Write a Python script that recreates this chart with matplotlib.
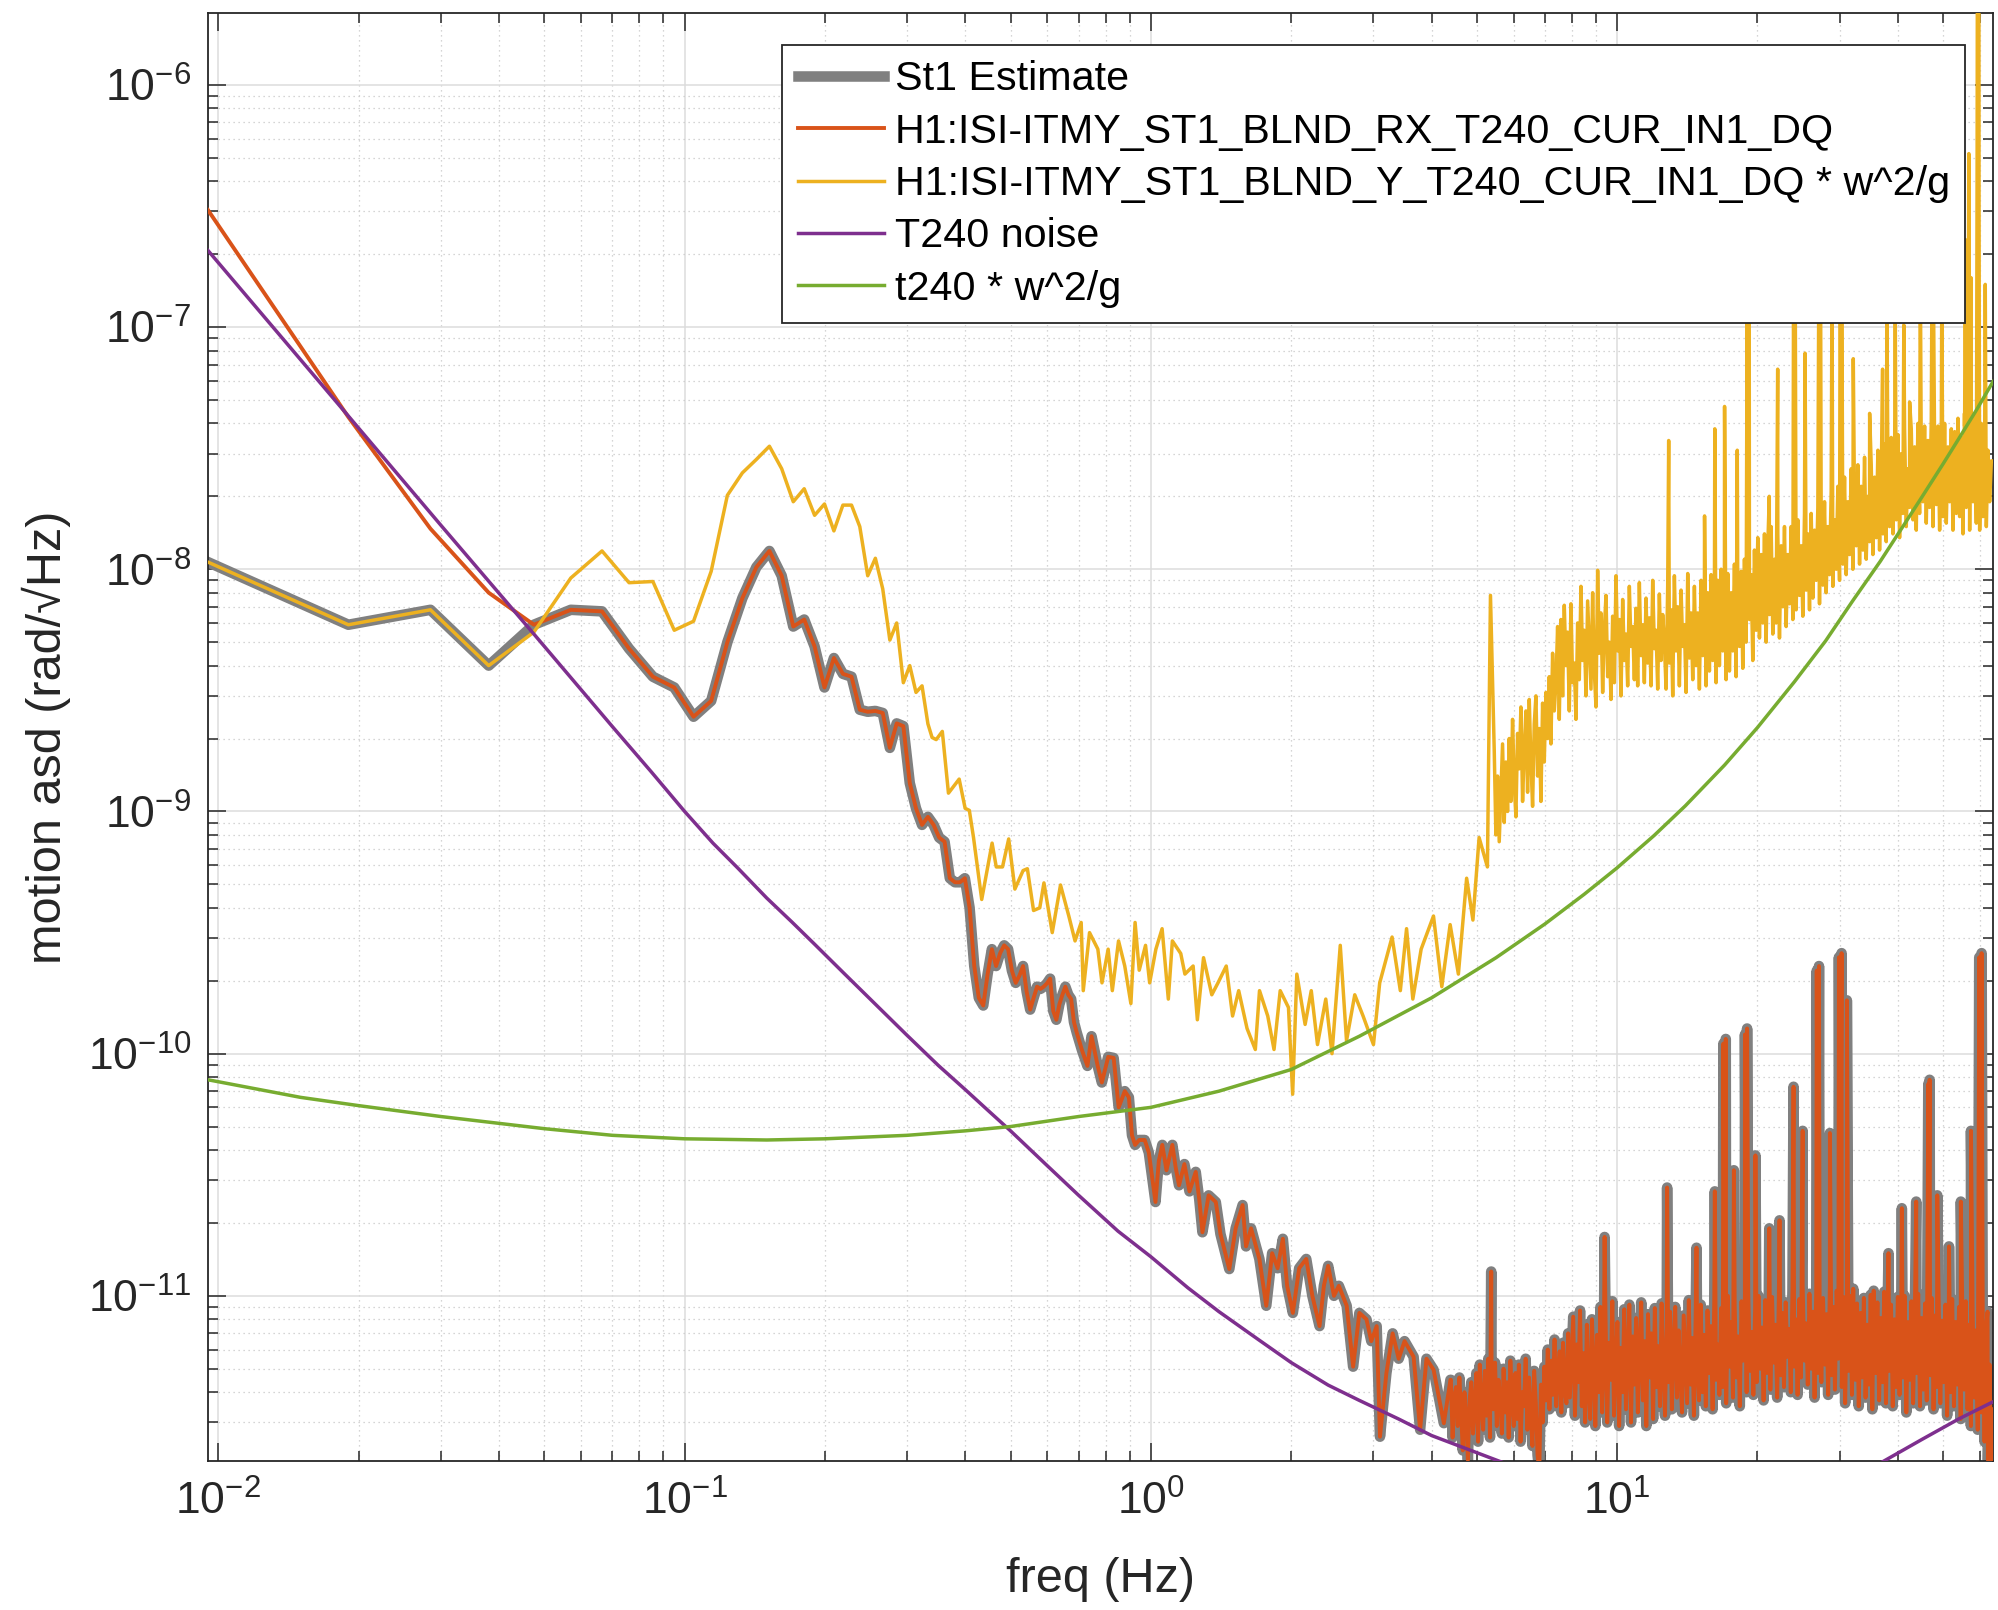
import numpy as np
import matplotlib
matplotlib.use("Agg")
import matplotlib.pyplot as plt
from matplotlib.ticker import LogLocator, NullFormatter

plt.rcParams['font.family'] = ['Liberation Sans', 'DejaVu Sans']
plt.rcParams['mathtext.fontset'] = 'custom'
plt.rcParams['mathtext.rm'] = 'Liberation Sans'
plt.rcParams['mathtext.it'] = 'Liberation Sans:italic'
plt.rcParams['mathtext.bf'] = 'Liberation Sans:bold'

# ---------------- data ----------------
labels = ["St1 Estimate",
          "H1:ISI-ITMY_ST1_BLND_RX_T240_CUR_IN1_DQ",
          "H1:ISI-ITMY_ST1_BLND_Y_T240_CUR_IN1_DQ * w^2/g",
          "T240 noise",
          "t240 * w^2/g"]

# lowest frequency bins (Hz)
f_low = [0.0095, 0.019, 0.0285, 0.038, 0.0475, 0.057, 0.0665, 0.076, 0.0855, 0.095,
         0.1045, 0.114, 0.1235, 0.133, 0.1425, 0.152, 0.1615, 0.171, 0.1805, 0.19,
         0.1995, 0.209, 0.2185, 0.228, 0.2375, 0.247, 0.2565, 0.266, 0.2755, 0.285]

rx_low = [3.04e-7, 4.25e-8, 1.47e-8, 8.0e-9, 5.9e-9, 6.8e-9, 6.7e-9, 4.7e-9, 3.6e-9, 3.25e-9,
          2.46e-9, 2.86e-9, 5.0e-9, 7.6e-9, 1.02e-8, 1.19e-8, 9.4e-9, 5.8e-9, 6.2e-9, 4.8e-9,
          3.25e-9, 4.3e-9, 3.7e-9, 3.6e-9, 2.63e-9, 2.58e-9, 2.6e-9, 2.55e-9, 1.83e-9, 2.31e-9]

y_low = [1.07e-8, 5.9e-9, 6.8e-9, 4.0e-9, 5.5e-9, 9.2e-9, 1.19e-8, 8.8e-9, 8.9e-9, 5.6e-9,
         6.1e-9, 9.8e-9, 2.02e-8, 2.5e-8, 2.84e-8, 3.22e-8, 2.6e-8, 1.9e-8, 2.15e-8, 1.67e-8,
         1.86e-8, 1.44e-8, 1.84e-8, 1.84e-8, 1.5e-8, 9.4e-9, 1.11e-8, 8.3e-9, 5.1e-9, 6.0e-9]

# RX channel, 0.29 - 4.4 Hz
rx_mid_f = [0.2945, 0.304, 0.3135, 0.323, 0.3325, 0.342, 0.3515, 0.361, 0.3705, 0.38,
            0.3895, 0.399, 0.4085, 0.418, 0.4275, 0.437, 0.4465, 0.456, 0.4655, 0.475,
            0.4845, 0.494, 0.5035, 0.513, 0.5225, 0.532, 0.5415, 0.551, 0.5605, 0.57,
            0.5795, 0.589, 0.5985, 0.608, 0.6175, 0.627, 0.6365, 0.646, 0.6555, 0.665,
            0.6745, 0.684, 0.6935, 0.712, 0.731, 0.746, 0.769, 0.785, 0.810, 0.832,
            0.853, 0.879, 0.897, 0.911, 0.925, 0.944, 0.97, 0.99, 1.023, 1.04,
            1.058, 1.08, 1.112, 1.13, 1.149, 1.18, 1.21, 1.248, 1.27, 1.29,
            1.33, 1.378, 1.41, 1.473, 1.52, 1.573, 1.6, 1.64, 1.709, 1.768,
            1.82, 1.87, 1.919, 1.96, 2.016, 2.08, 2.154, 2.22, 2.30, 2.35,
            2.40, 2.47, 2.53, 2.63, 2.715, 2.8, 2.90, 2.97, 3.05, 3.10,
            3.2, 3.3, 3.4, 3.5, 3.66, 3.78, 3.9, 4.04, 4.25, 4.39]
rx_mid_v = [2.25e-9, 1.31e-9, 1.03e-9, 8.8e-10, 9.5e-10, 8.8e-10, 7.8e-10, 7.5e-10, 5.3e-10, 5.1e-10,
            5.1e-10, 5.3e-10, 4.0e-10, 2.3e-10, 1.7e-10, 1.58e-10, 2.13e-10, 2.7e-10, 2.3e-10, 2.6e-10,
            2.8e-10, 2.7e-10, 2.2e-10, 1.96e-10, 2.1e-10, 2.3e-10, 1.8e-10, 1.52e-10, 1.7e-10, 1.89e-10,
            1.85e-10, 1.89e-10, 1.95e-10, 2.04e-10, 1.5e-10, 1.38e-10, 1.6e-10, 1.75e-10, 1.89e-10, 1.75e-10,
            1.68e-10, 1.35e-10, 1.22e-10, 1.03e-10, 8.9e-11, 1.18e-10, 8.9e-11, 7.6e-11, 9.7e-11, 9.6e-11,
            6.0e-11, 7.0e-11, 6.6e-11, 4.6e-11, 4.2e-11, 4.4e-11, 4.4e-11, 3.9e-11, 2.44e-11, 3.6e-11,
            4.2e-11, 3.3e-11, 4.2e-11, 3.4e-11, 2.86e-11, 3.5e-11, 2.7e-11, 3.25e-11, 2.5e-11, 1.83e-11,
            2.6e-11, 2.44e-11, 1.8e-11, 1.29e-11, 1.9e-11, 2.37e-11, 1.6e-11, 1.9e-11, 1.42e-11, 9.1e-12,
            1.5e-11, 1.3e-11, 1.72e-11, 1.1e-11, 8.5e-12, 1.3e-11, 1.42e-11, 1.0e-11, 7.5e-12, 1.1e-11,
            1.33e-11, 1.0e-11, 1.1e-11, 9.1e-12, 5.1e-12, 8.5e-12, 8.0e-12, 6.5e-12, 7.5e-12, 2.62e-12,
            4.8e-12, 7.0e-12, 5.5e-12, 6.5e-12, 5.6e-12, 2.8e-12, 5.5e-12, 4.95e-12, 2.98e-12, 4.5e-12]

# RX channel noise floor 4.4 - 64 Hz (units of 1e-12), evenly spaced in log f
rx_hf_pico = [
    4.5, 2.6, 3.8, 4.2, 2.9, 4.6, 3.3, 2.3, 4.0, 3.1,
    2.1, 3.7, 4.4, 2.7, 3.5, 4.8, 2.5, 5.2, 3.6, 2.8,
    4.9, 3.2, 5.5, 2.6, 4.1, 3.4, 5.3, 2.9, 4.5, 3.8,
    2.7, 5.0, 3.3, 4.4, 2.6, 5.4, 3.7, 2.9, 4.8, 3.1,
    5.2, 2.5, 4.0, 3.5, 5.5, 2.8, 4.6, 3.2, 2.4, 4.9,
    3.6, 2.2, 1.9, 4.3, 3.0, 5.1, 3.7, 6.0, 3.4, 5.4,
    3.9, 6.6, 3.5, 4.8, 5.9, 3.3, 6.4, 4.1, 3.6, 7.0,
    3.8, 5.6, 8.2, 3.2, 6.3, 4.4, 8.7, 3.5, 5.8, 3.0,
    7.6, 4.2, 3.1, 8.0, 5.0, 2.9, 6.9, 4.0, 9.0, 3.3,
    5.8, 8.3, 3.0, 6.4, 4.5, 9.5, 3.2, 5.2, 7.8, 2.9,
    6.1, 4.0, 8.8, 3.4, 5.5, 9.2, 3.0, 6.8, 4.3, 8.1,
    3.3, 5.9, 9.4, 3.7, 6.5, 2.9, 8.4, 4.6, 7.0, 3.1,
    8.9, 4.2, 6.2, 3.5, 9.3, 5.0, 3.2, 7.4, 4.4, 8.6,
    3.4, 6.0, 9.0, 3.8, 7.2, 4.7, 3.3, 8.3, 5.4, 3.6,
    9.6, 4.3, 6.7, 3.2, 8.0, 5.2, 3.7, 9.2, 4.0, 6.9,
    3.5, 8.7, 4.8, 7.5, 3.4, 9.8, 4.5, 6.3, 3.9, 8.9,
    4.2, 7.2, 3.6, 10.0, 5.1, 7.8, 3.8, 9.1, 4.6, 6.8,
    3.5, 9.5, 5.4, 8.0, 4.0, 10.4, 4.9, 7.1, 3.9, 8.8,
    4.4, 10.0, 5.0, 7.4, 3.7, 9.6, 4.8, 8.2, 4.1, 9.9,
    5.3, 7.6, 3.8, 10.3, 4.7, 8.5, 4.2, 9.4, 5.6, 7.3,
    4.0, 10.6, 5.1, 8.0, 3.9, 9.7, 4.6, 11.0, 5.4, 7.7,
    4.3, 10.2, 5.0, 8.6, 3.8, 10.8, 4.8, 7.9, 4.4, 9.8,
    5.2, 8.4, 3.9, 11.2, 4.7, 9.0, 4.1, 10.5, 5.5, 8.2,
    4.2, 9.9, 3.6, 8.7, 4.9, 10.0, 3.9, 7.8, 4.5, 9.3,
    3.5, 8.5, 4.6, 9.8, 3.8, 7.6, 4.3, 10.1, 3.4, 8.9,
    4.8, 9.4, 3.7, 8.1, 4.4, 10.4, 3.6, 8.6, 4.9, 9.2,
    3.5, 8.0, 4.2, 9.9, 3.9, 8.7, 4.6, 10.0, 3.3, 7.8,
    4.5, 9.5, 3.6, 8.4, 4.8, 10.2, 3.5, 8.1, 4.1, 9.3,
    3.7, 8.6, 4.7, 9.8, 3.4, 8.3, 4.2, 10.1, 3.6, 7.9,
    4.4, 9.2, 3.2, 8.5, 4.0, 9.7, 3.5, 7.8, 4.3, 9.0,
    3.1, 8.2, 4.1, 9.5, 3.4, 7.6, 2.9, 8.8, 3.8, 7.2,
    2.8, 8.4, 3.3, 6.8, 2.5, 7.5, 2.1, 5.2, 1.8, 3.4]

# RX channel lines (peaks)
rx_peak_f = [5.37, 9.4, 12.8, 14.8, 16.2, 16.9, 17.1, 17.8, 18.8, 19.0, 19.8, 21.2, 22.3,
             23.9, 25.0, 26.8, 27.1, 28.6, 29.9, 30.3, 31.1, 32.1, 35.5, 38.2, 40.8,
             43.8, 46.5, 46.8, 48.6, 51.5, 54.6, 57.4, 59.8, 60.5, 62.3]
rx_peak_v = [1.26e-11, 1.75e-11, 2.8e-11, 1.58e-11, 2.7e-11, 1.1e-10, 1.15e-10, 3.3e-11, 1.2e-10,
             1.27e-10, 3.8e-11, 1.9e-11, 2.05e-11, 7.3e-11, 4.8e-11, 2.2e-10, 2.3e-10, 4.7e-11,
             2.5e-10, 2.6e-10, 1.66e-10, 1.07e-11, 1.05e-11, 1.5e-11, 2.3e-11, 2.45e-11, 7.5e-11,
             7.8e-11, 2.6e-11, 1.6e-11, 2.45e-11, 4.8e-11, 2.5e-10, 2.6e-10, 8.6e-12]

# Y channel * w^2/g, 0.29 - 5.35 Hz
y_mid_f = [0.2945, 0.304, 0.3135, 0.323, 0.3325, 0.3394, 0.3464, 0.357, 0.368, 0.388,
           0.3996, 0.408, 0.4165, 0.4337, 0.4565, 0.466, 0.4806, 0.4955, 0.5109, 0.532,
           0.5434, 0.5602, 0.5777, 0.5897, 0.6144, 0.640, 0.6668, 0.6876, 0.7088, 0.7161,
           0.7386, 0.7696, 0.7855, 0.8098, 0.8266, 0.8524, 0.879, 0.906, 0.925, 0.944,
           0.974, 0.994, 1.025, 1.057, 1.09, 1.112, 1.159, 1.183, 1.232, 1.258,
           1.297, 1.351, 1.393, 1.451, 1.497, 1.543, 1.608, 1.675, 1.71, 1.781,
           1.837, 1.894, 1.973, 2.014, 2.056, 2.142, 2.208, 2.277, 2.372, 2.446,
           2.548, 2.628, 2.737, 2.852, 3.002, 3.096, 3.291, 3.428, 3.535, 3.646,
           3.799, 4.038, 4.207, 4.384, 4.566, 4.756, 4.906, 5.058, 5.27, 5.35]
y_mid_v = [3.4e-9, 4.0e-9, 3.1e-9, 3.3e-9, 2.3e-9, 2.02e-9, 1.98e-9, 2.14e-9, 1.19e-9, 1.36e-9,
           1.03e-9, 1.01e-9, 7.8e-10, 4.33e-10, 7.4e-10, 5.9e-10, 5.9e-10, 7.7e-10, 4.78e-10, 5.7e-10,
           5.8e-10, 3.9e-10, 4.0e-10, 5.07e-10, 3.16e-10, 4.97e-10, 3.7e-10, 2.92e-10, 3.48e-10, 1.82e-10,
           3.16e-10, 2.7e-10, 1.96e-10, 2.7e-10, 1.82e-10, 2.92e-10, 2.3e-10, 1.61e-10, 3.48e-10, 2.21e-10,
           2.8e-10, 1.96e-10, 2.7e-10, 3.28e-10, 1.68e-10, 2.92e-10, 2.59e-10, 2.13e-10, 2.3e-10, 1.38e-10,
           2.49e-10, 1.75e-10, 1.96e-10, 2.3e-10, 1.43e-10, 1.82e-10, 1.27e-10, 1.04e-10, 1.82e-10, 1.43e-10,
           1.04e-10, 1.82e-10, 1.55e-10, 6.8e-11, 2.13e-10, 1.32e-10, 1.82e-10, 1.09e-10, 1.68e-10, 1.0e-10,
           2.8e-10, 1.13e-10, 1.75e-10, 1.43e-10, 1.09e-10, 1.96e-10, 3.03e-10, 1.82e-10, 3.28e-10, 1.68e-10,
           2.7e-10, 3.7e-10, 1.89e-10, 3.41e-10, 2.13e-10, 5.3e-10, 3.56e-10, 7.8e-10, 5.9e-10, 7.8e-9]

# Y channel noise floor 5.45 - 64 Hz (units of 1e-9), evenly spaced in log f
y_hf_nano = [
    1.8, 0.8, 1.4, 0.75, 1.2, 1.9, 0.9, 1.6, 1.0, 2.0,
    1.1, 2.4, 1.3, 0.95, 2.1, 1.5, 2.7, 1.1, 1.8, 2.6,
    1.2, 2.9, 1.6, 1.05, 2.3, 3.0, 1.4, 2.2, 1.1, 2.8,
    1.6, 3.1, 2.0, 3.6, 1.9, 4.5, 2.6, 3.4, 5.8, 2.4,
    6.2, 3.0, 7.1, 4.0, 5.5, 2.6, 7.2, 3.4, 4.1, 2.4,
    6.0, 3.5, 8.5, 4.2, 5.6, 3.0, 7.4, 4.8, 3.2, 8.0,
    3.8, 2.7, 9.9, 4.5, 6.6, 3.1, 5.6, 7.8, 3.6, 5.0,
    2.9, 6.4, 3.4, 9.4, 4.6, 6.2, 3.0, 7.5, 4.2, 5.4,
    3.3, 8.5, 4.8, 5.8, 3.5, 6.9, 3.3, 8.8, 4.4, 5.9,
    3.4, 7.6, 4.1, 6.3, 3.3, 9.0, 4.7, 5.6, 3.2, 7.9,
    4.2, 6.5, 5.0, 3.2, 8.6, 4.1, 6.8, 3.0, 9.4, 4.6,
    7.0, 3.3, 8.2, 4.8, 5.9, 3.1, 9.6, 4.3, 6.6, 3.5,
    8.5, 4.0, 6.6, 3.2, 9.0, 4.4, 7.0, 3.3, 8.0, 3.8,
    9.5, 4.2, 7.5, 3.4, 9.0, 4.0, 10.0, 4.6, 7.8, 3.5,
    9.6, 3.8, 8.0, 4.6, 10.5, 3.6, 7.6, 4.8, 9.8, 3.9,
    11.0, 5.0, 13.0, 6.2, 9.5, 4.2, 12.0, 5.6, 13.5, 5.2,
    11.5, 6.0, 14.0, 5.0, 12.5, 6.5, 15.0, 5.4, 11.0, 6.0,
    14.0, 5.2, 12.5, 7.0, 15.0, 5.8, 11.5, 7.2, 15.0, 6.2,
    13.5, 6.8, 16.0, 7.8, 12.5, 6.4, 17.0, 8.2, 14.0, 6.8,
    17.0, 7.6, 14.5, 9.0, 18.0, 7.2, 15.5, 8.6, 19.0, 8.0,
    15.0, 9.5, 21.0, 8.5, 16.0, 10.0, 22.0, 9.0, 17.5, 10.5,
    24.0, 9.5, 19.0, 11.5, 26.0, 10.0, 18.0, 12.5, 27.0, 10.5,
    22.0, 12.0, 29.0, 11.0, 20.0, 13.0, 27.0, 11.5, 24.0, 13.5,
    31.0, 12.0, 23.0, 14.0, 33.0, 13.0, 25.0, 15.0, 35.0, 14.0,
    28.0, 16.0, 36.0, 13.5, 30.0, 17.0, 38.0, 15.0, 26.0, 18.0,
    38.0, 16.0, 32.0, 14.5, 40.0, 17.0, 29.0, 19.0, 39.0, 15.5,
    34.0, 18.0, 41.0, 15.0, 31.0, 18.5, 39.0, 14.5, 35.0, 16.5,
    40.0, 15.5, 32.0, 19.0, 38.0, 14.5, 37.0, 17.0, 42.0, 16.5,
    35.0, 14.0, 39.0, 18.0, 42.0, 14.5, 37.0, 19.0, 44.0, 15.5,
    37.0, 14.5, 40.0, 16.5, 34.0, 15.0, 31.0, 19.0, 28.0, 28.0]

# Y channel lines (peaks)
y_peak_f = [12.9, 15.4, 16.2, 17.0, 18.1, 19.0, 19.2, 21.2, 22.1, 23.9, 24.1, 25.3, 27.1, 27.3,
            28.9, 30.1, 30.3, 32.1, 34.8, 37.1, 37.9, 39.5, 41.2, 42.4, 44.7, 47.4, 47.6, 49.7,
            55.6, 55.8, 56.8, 57.4, 59.3, 59.6, 61.6]
y_peak_v = [3.4e-8, 1.66e-8, 3.8e-8, 4.7e-8, 3.1e-8, 1.2e-7, 1.3e-7, 2.0e-8, 6.7e-8, 1.5e-7, 1.6e-7,
            7.8e-8, 2.4e-7, 2.5e-7, 1.5e-7, 2.9e-7, 3.0e-7, 7.4e-8, 4.4e-8, 6.7e-8, 1.3e-7, 1.07e-7,
            1.02e-7, 4.9e-8, 1.8e-7, 2.4e-7, 2.5e-7, 1.4e-7, 4.4e-8, 2.3e-7, 5.2e-7, 1.6e-7, 3.0e-6,
            3.5e-6, 1.5e-7]

# T240 noise
t240_f = [0.0095, 0.02, 0.03, 0.0475, 0.07, 0.085, 0.1, 0.115, 0.13, 0.15, 0.17, 0.19, 0.22,
          0.26, 0.3, 0.35, 0.4, 0.45, 0.5, 0.6, 0.7, 0.85, 1.0, 1.2, 1.4, 1.7, 2.0, 2.4,
          2.8, 3.4, 4.0, 5.5, 8.0, 10.0, 14.0, 20.0, 28.0, 36.7, 45.0, 54.0, 64.0]
t240_v = [2.07e-7, 3.82e-8, 1.52e-8, 5.4e-9, 2.24e-9, 1.45e-9, 1.0e-9, 7.4e-10, 5.84e-10, 4.39e-10,
          3.49e-10, 2.83e-10, 2.14e-10, 1.56e-10, 1.19e-10, 8.94e-11, 7.1e-11, 5.77e-11, 4.8e-11,
          3.44e-11, 2.6e-11, 1.85e-11, 1.45e-11, 1.08e-11, 8.6e-12, 6.6e-12, 5.3e-12, 4.28e-12,
          3.7e-12, 3.1e-12, 2.65e-12, 2.1e-12, 1.6e-12, 1.45e-12, 1.35e-12, 1.45e-12, 1.7e-12,
          2.04e-12, 2.55e-12, 3.1e-12, 3.65e-12]

# t240 * w^2/g
t240w_f = [0.0095, 0.015, 0.02, 0.03, 0.05, 0.07, 0.1, 0.15, 0.2, 0.3, 0.4, 0.5, 0.7, 1.0,
           1.4, 2.0, 2.8, 4.0, 5.5, 7.0, 8.5, 10.0, 12.0, 14.0, 17.0, 20.0, 24.0, 28.0, 32.0,
           36.7, 41.0, 45.0, 50.0, 54.0, 59.0, 64.0]
t240w_v = [7.8e-11, 6.6e-11, 6.1e-11, 5.5e-11, 4.9e-11, 4.6e-11, 4.45e-11, 4.4e-11, 4.45e-11,
           4.6e-11, 4.8e-11, 5.0e-11, 5.5e-11, 6.0e-11, 7.0e-11, 8.6e-11, 1.18e-10, 1.7e-10,
           2.49e-10, 3.43e-10, 4.55e-10, 5.85e-10, 7.95e-10, 1.054e-9, 1.554e-9, 2.22e-9, 3.43e-9,
           5.06e-9, 7.4e-9, 1.08e-8, 1.5e-8, 1.98e-8, 2.72e-8, 3.45e-8, 4.55e-8, 5.95e-8]

x_ticks = [1e-2, 1e-1, 1e0, 1e1]
y_ticks = [1e-11, 1e-10, 1e-9, 1e-8, 1e-7, 1e-6]


def merge(*pairs):
    f = np.concatenate([np.asarray(p[0], float) for p in pairs])
    v = np.concatenate([np.asarray(p[1], float) for p in pairs])
    o = np.argsort(f, kind="stable")
    return f[o], v[o]


rx_hf_f = np.geomspace(4.4, 64, len(rx_hf_pico))
y_hf_f = np.geomspace(5.45, 64, len(y_hf_nano))

rx_f, rx_v = merge((f_low, rx_low), (rx_mid_f, rx_mid_v),
                   (rx_hf_f, np.array(rx_hf_pico) * 1e-12), (rx_peak_f, rx_peak_v))
yy_f, yy_v = merge((f_low, y_low), (y_mid_f, y_mid_v),
                   (y_hf_f, np.array(y_hf_nano) * 1e-9), (y_peak_f, y_peak_v))

# blended estimate: Y tilt below the blend, RX above it
est_v = rx_v.copy()
est_v[:4] = y_low[:4]
est_f = rx_f

# ---------------- figure ----------------
W, H = 1998, 1610
fig = plt.figure(figsize=(W / 100, H / 100), dpi=100)
ax = fig.add_axes([208 / W, 1 - 1461 / H, (1993 - 208) / W, (1461 - 13) / H])

c_gray = '#808080'
c_orange = '#D95319'
c_yellow = '#EDB120'
c_purple = '#7E2F8E'
c_green = '#77AC30'

h0, = ax.loglog(est_f, est_v, color=c_gray, lw=7.6, solid_joinstyle='round', zorder=2)
h1, = ax.loglog(rx_f, rx_v, color=c_orange, lw=2.8, zorder=3)
h2, = ax.loglog(yy_f, yy_v, color=c_yellow, lw=2.5, zorder=4)
h3, = ax.loglog(t240_f, t240_v, color=c_purple, lw=2.5, zorder=5)
h4, = ax.loglog(t240w_f, t240w_v, color=c_green, lw=2.5, zorder=6)

ax.set_xlim(0.0095, 64)
ax.set_ylim(2.08e-12, 1.98e-6)

ax.xaxis.set_major_locator(LogLocator(base=10, numticks=20))
ax.yaxis.set_major_locator(LogLocator(base=10, numticks=20))
ax.xaxis.set_minor_locator(LogLocator(base=10, subs=np.arange(2, 10), numticks=200))
ax.yaxis.set_minor_locator(LogLocator(base=10, subs=np.arange(2, 10), numticks=200))
ax.xaxis.set_minor_formatter(NullFormatter())
ax.yaxis.set_minor_formatter(NullFormatter())
ax.set_xticks(x_ticks)
ax.set_yticks(y_ticks)

ax.set_axisbelow(True)
ax.grid(True, which='major', color='#dcdcdc', linestyle='-', linewidth=1.1)
ax.grid(True, which='minor', color='#c8c8c8', linestyle=(0, (1, 3)), linewidth=0.9)

for s in ax.spines.values():
    s.set_color('#262626')
    s.set_linewidth(1.3)

ax.tick_params(which='both', direction='in', top=True, right=True, colors='#262626',
               labelcolor='#262626', width=1.1)
ax.tick_params(which='major', length=13, labelsize=32)
ax.tick_params(which='minor', length=7)
ax.tick_params(axis='x', which='major', pad=14)
ax.tick_params(axis='y', which='major', pad=12)

ax.set_xlabel('freq (Hz)', fontsize=35, color='#262626', labelpad=24)
ax.set_ylabel('motion asd (rad/\u221aHz)', fontsize=35, color='#262626', labelpad=12)

leg = ax.legend([h0, h1, h2, h3, h4], labels, loc='upper right',
                bbox_to_anchor=(0.9843, 0.978), borderaxespad=0, fontsize=29.7,
                frameon=True, fancybox=False, framealpha=1, edgecolor='#262626',
                borderpad=0.37, labelspacing=0.35, handlelength=2.1, handletextpad=0.25)
leg.get_frame().set_linewidth(1.3)
leg.set_zorder(10)

fig.savefig('out.png', dpi=100)
